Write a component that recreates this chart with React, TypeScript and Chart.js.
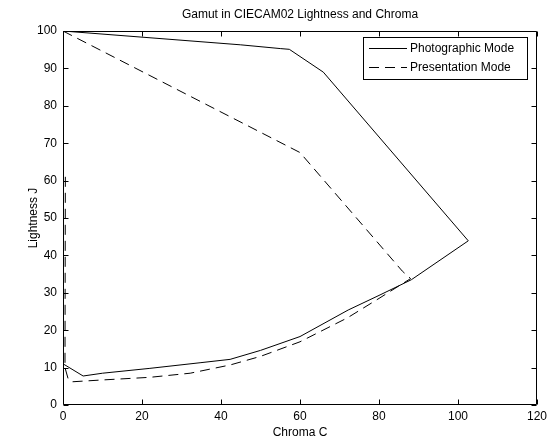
import React, { useEffect, useRef } from 'react';
import { Chart, registerables } from 'chart.js';

Chart.register(...registerables);

const chartTitle = 'Gamut in CIECAM02 Lightness and Chroma';
const xTitle = 'Chroma C';
const yTitle = 'Lightness J';
const seriesNames = ['Photographic Mode', 'Presentation Mode'];

const xTicksMin = 0;
const xTicksMax = 120;
const xStep = 20;
const yTicksMin = 0;
const yTicksMax = 100;
const yStep = 10;

// Photographic Mode (solid)
const photoC = [0, 45, 55, 57.3, 65.9, 102.6, 88.2, 80, 72.2, 60, 50, 42.3, 34.7, 22, 10, 5.1, 0.5, 0, 0];
const photoJ = [100, 96.3, 95.3, 95.1, 89, 43.9, 33.5, 29.3, 25.4, 18.3, 14.6, 12.2, 11.3, 9.8, 8.5, 7.75, 10.7, 11, 100];

// Presentation Mode (dashed)
const presC = [0, 60, 85.9, 88, 80, 72, 60, 50, 42.3, 32.2, 22, 10, 2.2, 1.3, 0.5, 0.6];
const presJ = [100, 67.5, 35.8, 33.8, 28.5, 23.3, 16.9, 13, 10.7, 8.5, 7.4, 6.7, 6.2, 7, 10, 62.5];

const FONT = '"Liberation Sans", Arial, Helvetica, sans-serif';
const DASH = [10, 6];

const toPoints = (xs: number[], ys: number[]) => xs.map((x, i) => ({ x, y: ys[i] }));

const framePlugin = {
  id: 'matlabFrame',
  afterDraw(chart: any) {
    const { ctx, chartArea } = chart;
    const L = Math.round(chartArea.left) + 0.5;
    const R = Math.round(chartArea.right) - 0.5;
    const T = Math.round(chartArea.top) + 0.5;
    const B = Math.round(chartArea.bottom) - 0.5;
    ctx.save();
    ctx.strokeStyle = '#000';
    ctx.lineWidth = 1;
    ctx.beginPath();
    ctx.rect(L, T, R - L, B - T);
    ctx.stroke();
    const tl = 5;
    const xs = chart.scales.x;
    const ys = chart.scales.y;
    ctx.beginPath();
    xs.ticks.forEach((t: any) => {
      const px = Math.round(xs.getPixelForValue(t.value)) + 0.5;
      ctx.moveTo(px, B);
      ctx.lineTo(px, B - tl);
      ctx.moveTo(px, T);
      ctx.lineTo(px, T + tl);
    });
    ys.ticks.forEach((t: any) => {
      const py = Math.round(ys.getPixelForValue(t.value)) + 0.5;
      ctx.moveTo(L, py);
      ctx.lineTo(L + tl, py);
      ctx.moveTo(R, py);
      ctx.lineTo(R - tl, py);
    });
    ctx.stroke();

    // title
    ctx.fillStyle = '#000';
    ctx.font = `12px ${FONT}`;
    ctx.textAlign = 'center';
    ctx.textBaseline = 'middle';
    ctx.fillText(chartTitle, (chartArea.left + chartArea.right) / 2, 15);

    // legend
    const bx = 363.5, by = 37.5, bw = 164, bh = 42;
    ctx.fillStyle = '#fff';
    ctx.fillRect(bx, by, bw, bh);
    ctx.strokeRect(bx, by, bw, bh);
    const rows = [48.5, 67.5];
    const dashes = [[], DASH];
    rows.forEach((ry, i) => {
      ctx.setLineDash(dashes[i]);
      ctx.beginPath();
      ctx.moveTo(369, ry);
      ctx.lineTo(407, ry);
      ctx.stroke();
      ctx.setLineDash([]);
      ctx.fillStyle = '#000';
      ctx.textAlign = 'left';
      ctx.textBaseline = 'middle';
      ctx.fillText(seriesNames[i], 410, ry);
    });
    ctx.restore();
  },
};

export default function App() {
  const ref = useRef<HTMLCanvasElement | null>(null);
  useEffect(() => {
    if (!ref.current) return;
    const chart = new Chart(ref.current, {
      type: 'scatter',
      data: {
        datasets: [
          {
            label: seriesNames[0],
            data: toPoints(photoC, photoJ),
            showLine: true,
            borderColor: '#000',
            backgroundColor: '#000',
            borderWidth: 1,
            pointRadius: 0,
            tension: 0,
          },
          {
            label: seriesNames[1],
            data: toPoints(presC, presJ),
            showLine: true,
            borderColor: '#000',
            backgroundColor: '#000',
            borderWidth: 1,
            borderDash: DASH,
            pointRadius: 0,
            tension: 0,
          },
        ],
      },
      options: {
        animation: false,
        responsive: false,
        devicePixelRatio: 1,
        layout: { padding: { left: 0, top: 31, right: 15, bottom: 0 } },
        plugins: {
          legend: { display: false },
          title: { display: false },
          tooltip: { enabled: false },
        },
        scales: {
          x: {
            type: 'linear',
            min: xTicksMin,
            max: xTicksMax,
            ticks: { stepSize: xStep, color: '#000', padding: 4, font: { family: FONT, size: 12 }, maxRotation: 0 },
            grid: { display: false, drawTicks: false },
            border: { display: false },
            title: { display: true, text: xTitle, color: '#000', font: { family: FONT, size: 12 }, padding: { top: 3, bottom: 0 } },
            afterFit: (s: any) => { s.height = 35; },
          },
          y: {
            type: 'linear',
            min: yTicksMin,
            max: yTicksMax,
            ticks: { stepSize: yStep, color: '#000', padding: 6, font: { family: FONT, size: 12 } },
            grid: { display: false, drawTicks: false },
            border: { display: false },
            title: { display: true, text: yTitle, color: '#000', font: { family: FONT, size: 12 }, padding: { top: 26, bottom: 0 } },
            afterFit: (s: any) => { s.width = 63; },
          },
        },
      },
      plugins: [framePlugin],
    });
    return () => chart.destroy();
  }, []);
  return (
    <div style={{ position: 'absolute', left: 0, top: 0, width: 552, height: 440, background: '#fff' }}>
      <canvas ref={ref} width={552} height={440} style={{ width: 552, height: 440 }} />
    </div>
  );
}
